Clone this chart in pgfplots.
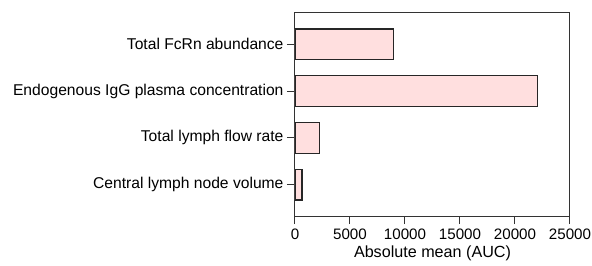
\documentclass[border=0pt]{standalone}
\usepackage{pgfplots}
\pgfplotsset{compat=1.18}
\usepackage{fontspec}
\setmainfont{Liberation Sans}
\definecolor{barfill}{HTML}{FFDFDF}
\definecolor{axgray}{HTML}{333333}
\begin{document}
\begin{tikzpicture}
\begin{axis}[
 scale only axis, width=275bp, height=203bp,
 xbar, bar width=30.5bp,
 xmin=0, xmax=25000, ymin=0.33, ymax=4.67,
 ytick={1,2,3,4},
 yticklabels={Central lymph node volume, Total lymph flow rate, Endogenous IgG plasma concentration\hspace{5bp}, Total FcRn abundance\hspace{5bp}},
 xtick={0,5000,...,25000},
 scaled x ticks=false,
 /pgf/number format/1000 sep={},
 /pgf/number format/assume math mode=true,
 tick align=outside, tick pos=left, major tick length=8bp,
 axis line style={axgray, line width=1bp},
 tick style={axgray, line width=1bp},
 yticklabel style={font=\fontsize{15.7}{18}\selectfont},
 xticklabel style={font=\fontsize{15.2}{18}\selectfont, yshift=-1bp},
 xlabel={Absolute mean (AUC)}, label style={font=\fontsize{16.2}{19}\selectfont},
]
\addplot[fill=barfill, draw=black!85, line width=1.2bp] coordinates {(640,1) (2240,2) (22060,3) (8970,4)};
\end{axis}
\pgfresetboundingbox
\path (-295bp,-50bp) rectangle (297bp,216bp);
\end{tikzpicture}
\end{document}
